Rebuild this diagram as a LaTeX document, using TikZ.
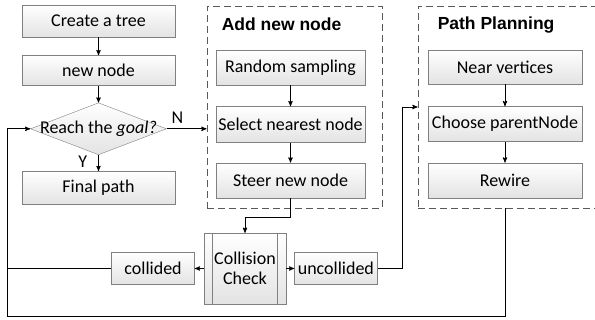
\documentclass[tikz,border=0pt]{standalone}
\usepackage{fontspec}
\setmainfont{Carlito}
\newfontfamily\ttlfont{Liberation Sans}
\usepackage{tikz}
\usetikzlibrary{arrows,shapes.geometric,positioning}

\begin{document}
\begin{tikzpicture}[x=1pt, y=-1pt, node distance=18pt, inner sep=0pt]

    \tikzstyle{blk}=[rectangle, draw=gray, top color=white, bottom color=gray!22, minimum width=153pt, minimum height=32pt, font=\fontsize{18}{20}\selectfont] \tikzstyle{dia}=[diamond, draw=gray, top color=white, bottom color=gray!22, font=\fontsize{18}{20}\selectfont]
    \tikzstyle{grp}=[rectangle, draw=black!65, dash pattern=on 7pt off 4pt, line width=0.9pt] \tikzstyle{ttl}=[anchor=west, font=\ttlfont\bfseries\fontsize{17.5}{20}\selectfont] \tikzstyle{lbl}=[font=\fontsize{18}{20}\selectfont]
    \tikzstyle{arw}=[->, >=stealth', line width=0.9pt] \tikzstyle{ln}=[line width=0.9pt]

    \useasboundingbox (0,0) rectangle (595,320);

    % left column
    \node[blk] (tree) at (98.5,21) {Create a tree};
    \node[blk, minimum height=30pt] (newn) [below=18pt of tree] {new node};
    \node[dia, minimum width=136pt, minimum height=52pt] (goal) [below=17pt of newn] {\makebox[0pt]{Reach the \textit{goal?}}};
    \node[blk, minimum height=33pt] (final) [below=16pt of goal] {Final path};

    % add new node
    \node[grp, minimum width=175pt, minimum height=202pt] (addbox) at (294.5,107) {};
    \node[ttl] (addttl) at ([xshift=15pt,yshift=-19pt]addbox.north west) {Add new node};
    \node[blk, minimum width=149pt, minimum height=35pt] (rs) at (290.5,67.5) {Random sampling};
    \node[blk, minimum width=149pt, minimum height=36pt] (sel) [below=21pt of rs] {Select nearest node};
    \node[blk, minimum width=149pt, minimum height=35pt] (steer) [below=20pt of sel] {Steer new node};

    % path planning
    \node[grp, minimum width=187pt, minimum height=202pt] (ppbox) at (511.5,107) {};
    \node[ttl] (ppttl) at ([xshift=20pt,yshift=-19pt]ppbox.north west) {Path Planning};
    \node[blk, minimum width=154pt, minimum height=34pt] (near) at (505,67) {Near vertices};
    \node[blk, minimum width=154pt, minimum height=35pt] (par) [below=22pt of near] {Choose parentNode};
    \node[blk, minimum width=154pt, minimum height=35pt] (rew) [below=21pt of par] {Rewire};

    % collision check
    \node[blk, minimum width=82pt, minimum height=71pt, align=center] (cc) at (245,268.5) {Collision\\Check};
    \draw[gray, line width=0.8pt] ([xshift=9pt]cc.north west) -- ([xshift=9pt]cc.south west);
    \draw[gray, line width=0.8pt] ([xshift=-9pt]cc.north east) -- ([xshift=-9pt]cc.south east);
    \node[blk, minimum width=83pt] (coll) [left=9pt of cc] {collided};
    \node[blk, minimum width=83pt] (uncoll) [right=8pt of cc] {uncollided};
    \coordinate (lc) at (7,316);

    \draw[arw] (tree) -- (newn);
    \draw[arw] (newn) -- (goal);
    \draw[arw] (goal.south) -- node[lbl, left=11pt, pos=0.45] {Y} (final.north);
    \draw[arw] (goal.east) -- node[lbl, above=5pt, pos=0.27] {N} (goal.east -| addbox.west);
    \draw[arw] (rs) -- (sel);
    \draw[arw] (sel) -- (steer);
    \draw[arw] (near) -- (par);
    \draw[arw] (par) -- (rew);
    \draw[arw] (steer.south) |- ([yshift=15pt]cc.north) -- (cc.north);
    \draw[arw] (cc.west) -- (coll.east);
    \draw[arw] (cc.east) -- (uncoll.west);
    \draw[arw] (uncoll.east) -| ([xshift=-15pt]ppbox.west) -- (ppbox.west);
    \draw[ln] (coll.west) -- (coll.west -| lc);
    \draw[arw] (rew |- ppbox.south) |- (lc) |- (goal.west);
  \end{tikzpicture}
\end{document}
